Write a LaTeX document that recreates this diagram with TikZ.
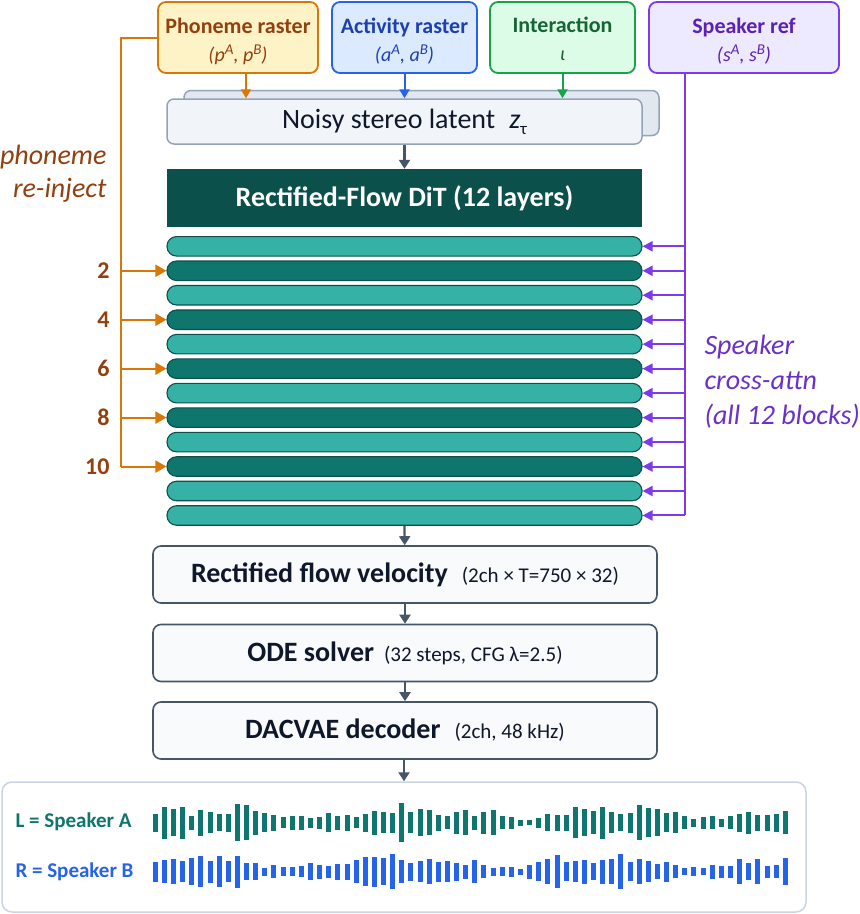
\documentclass[tikz,border=0pt]{standalone}
\usepackage{fontspec}
\setmainfont{Carlito}
\usepackage{tikz}
\usetikzlibrary{calc}
\usetikzlibrary{positioning}
\usetikzlibrary{arrows.meta}

\definecolor{phfill}{HTML}{FEF3C7}\definecolor{phdraw}{HTML}{D97706}\definecolor{phtext}{HTML}{92400E}
\definecolor{acfill}{HTML}{DBEAFE}\definecolor{acdraw}{HTML}{2563EB}\definecolor{actext}{HTML}{1E40AF}
\definecolor{infill}{HTML}{DCFCE7}\definecolor{indraw}{HTML}{16A34A}\definecolor{intext}{HTML}{166534}
\definecolor{spfill}{HTML}{EDE9FE}\definecolor{spdraw}{HTML}{7C3AED}\definecolor{sptext}{HTML}{5B21B6}
\definecolor{latfill}{HTML}{F1F5F9}\definecolor{latback}{HTML}{E2E8F0}\definecolor{latdraw}{HTML}{94A3B8}
\definecolor{ditfill}{HTML}{0B504A}\definecolor{laylt}{HTML}{35B2A5}\definecolor{laydk}{HTML}{0F766E}
\definecolor{layedge}{HTML}{0D5049}
\definecolor{slate}{HTML}{475569}\definecolor{ink}{HTML}{0F172A}\definecolor{outdraw}{HTML}{CBD5E1}
\definecolor{stepfill}{HTML}{F8FAFC}
\newcommand{\sups}[1]{\raisebox{0.75ex}{\fontsize{15}{15}\selectfont #1}}

\begin{document}
\begin{tikzpicture}[x=1pt,y=-1pt]
\tikzstyle{inbox}=[rectangle,rounded corners=8pt,align=center,draw,line width=1.8pt,minimum height=71pt,inner sep=0pt,font=\fontsize{22}{28}\selectfont]
\tikzstyle{latbox}=[rectangle,rounded corners=7pt,draw=latdraw,line width=1.5pt,minimum width=475pt,minimum height=45pt]
\tikzstyle{layer}=[rectangle,rounded corners=9.5pt,draw=layedge,line width=1.1pt,minimum width=475pt,minimum height=19.5pt,inner sep=0pt]
\tikzstyle{stepbox}=[rectangle,rounded corners=8pt,draw=slate,fill=stepfill,line width=1.6pt,minimum width=504pt,minimum height=57pt,text=ink]
\tikzstyle{flow}=[draw=slate,line width=2.2pt,-{Triangle[length=9pt,width=11pt]}]
\useasboundingbox (0, 0) rectangle (860, 914);

% inputs
\node[inbox,fill=phfill,draw=phdraw,text=phtext,minimum width=160pt] at(238, 37.5) (phon)
  {\rule{0pt}{23pt}\bfseries Phoneme raster\\{\fontsize{20}{28}\selectfont\itshape (p\sups{A}, p\sups{B})}};
\node[inbox,fill=acfill,draw=acdraw,text=actext,minimum width=145pt] at(404.5, 37.5) (act)
  {\rule{0pt}{23pt}\bfseries Activity raster\\{\fontsize{20}{28}\selectfont\itshape (a\sups{A}, a\sups{B})}};
\node[inbox,fill=infill,draw=indraw,text=intext,minimum width=145pt] at(562.5, 37.5) (inter)
  {\rule{0pt}{23pt}\bfseries Interaction\\{\fontsize{20}{28}\selectfont\itshape ι}\rule[-5pt]{0pt}{5pt}};
\node[inbox,fill=spfill,draw=spdraw,text=sptext,minimum width=190pt] at(744, 37.5) (spk)
  {\rule{0pt}{23pt}\bfseries Speaker ref\\{\fontsize{20}{28}\selectfont\itshape (s\sups{A}, s\sups{B})}};

% latent
\node[latbox,fill=latback] at(421.5, 113) (latb) {};
\node[latbox,fill=latfill,text=ink,font=\fontsize{28}{32}\selectfont] at(404.5, 121.5) (lat)
  {Noisy stereo latent\enspace\textit{z}\raisebox{-0.45ex}{\fontsize{17}{18}\selectfont τ}};
\draw[draw=phdraw,line width=2pt,-{Triangle[length=9pt,width=10pt]}] ([xshift=8pt]phon.south) -- ([xshift=8pt]phon.south |- lat.north);
\draw[draw=acdraw,line width=2pt,-{Triangle[length=9pt,width=10pt]}] (act.south) -- (act.south |- lat.north);
\draw[draw=indraw,line width=2pt,-{Triangle[length=9pt,width=10pt]}] (inter.south) -- (inter.south |- lat.north);

% DiT stack
\node[rectangle,fill=ditfill,text=white,minimum width=475pt,minimum height=58pt,font=\fontsize{28}{32}\selectfont\bfseries] at(404.5, 198) (dit)
  {Rectified-Flow DiT (12 layers)};
\draw[flow] (lat) -- (dit);
\foreach \i/\c in {1/laylt,2/laydk,3/laylt,4/laydk,5/laylt,6/laydk,7/laylt,8/laydk,9/laylt,10/laydk,11/laylt,12/laylt}
  \node[layer,fill=\c] at(404.5, {246.3+(\i-1)*24.47}) (lay\i) {};

% phoneme re-inject
\coordinate (phbot) at (121, 466.5);
\coordinate (numx) at (113, 0);
\draw[draw=phdraw,line width=2pt] (phon.west) -| (phbot);
\foreach \i in {2,4,6,8,10} {
  \draw[draw=phdraw,line width=2pt,-{Triangle[length=11pt,width=12pt]}] (phbot |- lay\i.west) -- (lay\i.west);
  \node[anchor=east,text=phtext,font=\fontsize{24}{28}\selectfont\bfseries] at(numx |- lay\i.west) (num\i) {\i};
}
\node[anchor=east,align=right,text=phtext,font=\fontsize{28}{33}\selectfont\itshape] at(110, 174) (phtxt) {phoneme\\re-inject};

% speaker cross-attn
\coordinate (sptop) at ([xshift=-59pt]spk.south);
\coordinate (spbot) at (sptop |- lay12.east);
\draw[draw=spdraw,line width=2pt] (sptop) -- (spbot);
\foreach \i in {1,...,12}
  \draw[draw=spdraw,line width=2pt,-{Triangle[length=10pt,width=10pt]}] (sptop |- lay\i.east) -- (lay\i.east);
\node[anchor=west,align=left,text=spdraw!85!black,font=\fontsize{28}{35}\selectfont\itshape] at(701, 382) (sptxt) {Speaker\\cross-attn\\(all 12 blocks)};

% decoding
\node[stepbox] at(405, 574.5) (vel) {{\fontsize{28}{32}\selectfont\bfseries Rectified flow velocity}\hspace{14pt}{\fontsize{21}{24}\selectfont(2ch × T=750 × 32)}};
\node[stepbox] at(405, 653) (ode) {{\fontsize{28}{32}\selectfont\bfseries ODE solver}\hspace{10pt}{\fontsize{21}{24}\selectfont(32 steps, CFG λ=2.5)}};
\node[stepbox] at(405, 730.5) (dec) {{\fontsize{28}{32}\selectfont\bfseries DACVAE decoder}\hspace{14pt}{\fontsize{21}{24}\selectfont(2ch, 48 kHz)}};
\node[rectangle,rounded corners=10pt,draw=outdraw,fill=white,line width=1.5pt,minimum width=804pt,minimum height=130pt] at(404, 847) (out) {};
\draw[flow] (lay12.south -| dit.south) -- (vel);
\draw[flow] (vel) -- (ode);
\draw[flow] (ode) -- (dec);
\draw[flow] (dec.south -| out.north) -- (out.north);

% stereo output
\node[anchor=west,text=laydk,font=\fontsize{21}{25}\selectfont\bfseries] at(12, 822) (lblL) {L = Speaker A};
\node[anchor=west,text=acdraw,font=\fontsize{21}{25}\selectfont\bfseries] at(12, 872) (lblR) {R = Speaker B};
\foreach \h [count=\k] in {18,32,27,32,14,26,21,17,18,37,35,24,19,16,11,14,14,10,12,19,14,16,11,18,24,21,20,39,21,27,25,16,13,22,25,14,22,25,13,12,6,5,10,17,16,16,31,27,23,32,21,17,20,35,29,27,19,21,13,8,12,13,8,13,18,22,16,16,18,23}
  \fill[laydk] ({152.8+(\k-1)*9.13}, {822.5-\h/2}) rectangle ++(5, \h);
\foreach \h [count=\k] in {20,23,25,21,27,31,22,31,21,32,17,17,8,13,9,9,11,17,14,12,16,16,23,29,30,27,35,23,18,21,25,20,21,18,14,23,13,8,9,10,6,14,19,25,33,19,21,24,17,24,25,35,19,25,21,15,20,13,7,9,7,14,12,12,25,17,25,12,13,27}
  \fill[acdraw] ({152.8+(\k-1)*9.13}, {871.5-\h/2}) rectangle ++(5, \h);
\end{tikzpicture}
\end{document}
